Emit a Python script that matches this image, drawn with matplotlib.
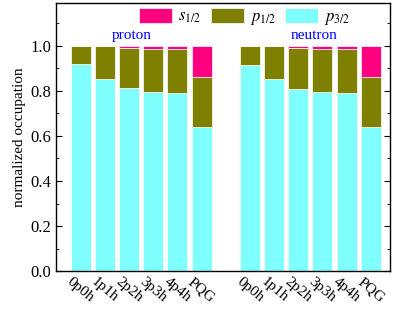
import matplotlib
matplotlib.use("Agg")
import matplotlib.pyplot as plt
import numpy as np

plt.rcParams['font.family'] = ['Liberation Serif', 'DejaVu Serif']
plt.rcParams['mathtext.fontset'] = 'stix'

labels = ["0p0h", "1p1h", "2p2h", "3p3h", "4p4h", "PQG"]
proton_p32 = [0.919, 0.852, 0.811, 0.794, 0.790, 0.639]
proton_p12 = [0.081, 0.148, 0.180, 0.191, 0.195, 0.222]
proton_s12 = [0.000, 0.000, 0.009, 0.015, 0.015, 0.139]
neutron_p32 = [0.916, 0.851, 0.809, 0.794, 0.789, 0.639]
neutron_p12 = [0.084, 0.149, 0.182, 0.191, 0.196, 0.222]
neutron_s12 = [0.000, 0.000, 0.009, 0.015, 0.015, 0.139]

c_s = '#FF0080'
c_p12 = '#808000'
c_p32 = '#80FFFF'

fig = plt.figure(figsize=(4.15, 3.17), dpi=100)
ax = fig.add_axes([0.135, 0.145, 0.805, 0.845])

xp = np.arange(6)
xn = np.arange(7, 13)
w = 0.83
for x, p32, p12, s12 in [(xp, proton_p32, proton_p12, proton_s12),
                         (xn, neutron_p32, neutron_p12, neutron_s12)]:
    p32 = np.array(p32); p12 = np.array(p12); s12 = np.array(s12)
    b1 = ax.bar(x, p32, w, color=c_p32, edgecolor='white', linewidth=0.5)
    b2 = ax.bar(x, p12, w, bottom=p32, color=c_p12, edgecolor='white', linewidth=0.5)
    b3 = ax.bar(x, s12, w, bottom=p32 + p12, color=c_s, edgecolor='white', linewidth=0.5)

ax.legend([b3, b2, b1], ['$s_{1/2}$', '$p_{1/2}$', '$p_{3/2}$'], ncol=3, frameon=False,
          loc='upper center', bbox_to_anchor=(0.565, 1.025), handlelength=2.0, handleheight=0.95,
          fontsize=12, columnspacing=0.55, handletextpad=0.35, borderaxespad=0.3)

ax.text(2.12, 1.045, 'proton', color='blue', ha='center', va='center', fontsize=11)
ax.text(9.65, 1.045, 'neutron', color='blue', ha='center', va='center', fontsize=11)

ax.set_xlim(-1.02, 12.8)
ax.set_ylim(0, 1.19)
ax.set_xticks(list(xp) + list(xn))
ax.set_xticklabels(labels + labels, rotation=-40, ha='center', va='top', fontsize=11)
ax.tick_params(axis='x', length=0, pad=3)
ax.set_yticks([0, 0.2, 0.4, 0.6, 0.8, 1.0])
ax.set_yticks(np.arange(0.1, 1.19, 0.2), minor=True)
ax.tick_params(axis='y', which='both', direction='in', right=True, labelsize=12)
ax.tick_params(axis='y', which='major', length=4)
ax.tick_params(axis='y', which='minor', length=2.5)
ax.set_yticklabels(['0.0', '0.2', '0.4', '0.6', '0.8', '1.0'])
ax.set_ylabel('normalized occupation', fontsize=11, labelpad=3)
for s in ax.spines.values():
    s.set_linewidth(1.0)

fig.savefig('out.png', dpi=100)
